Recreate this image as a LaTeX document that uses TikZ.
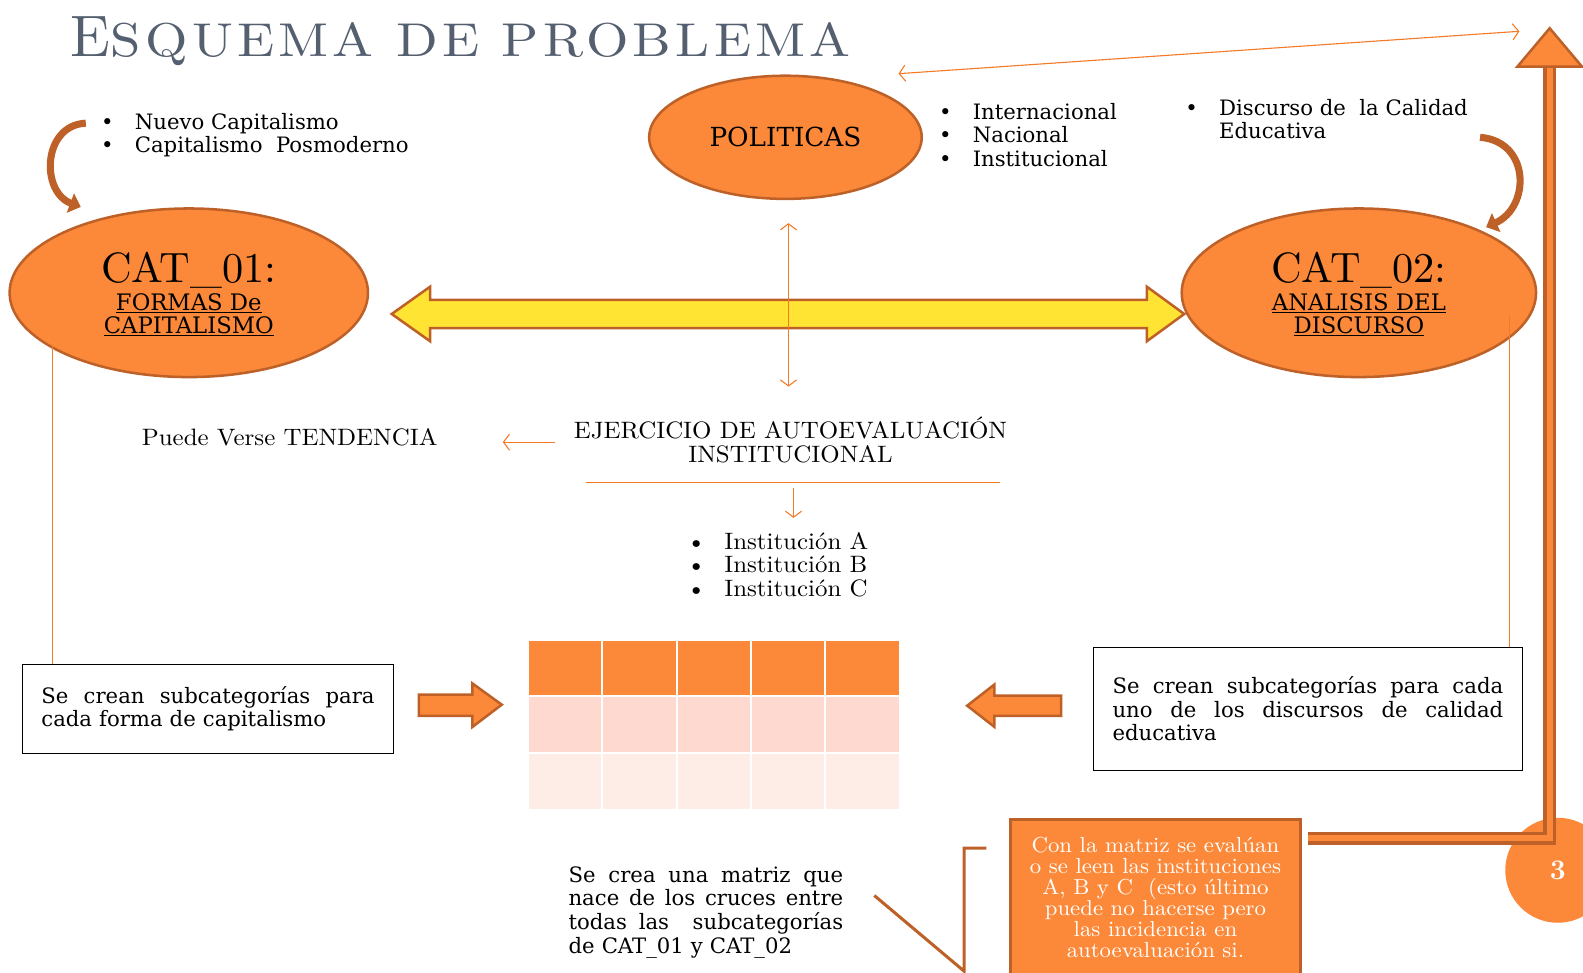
\documentclass[tikz,border=0pt]{standalone}
\usepackage{fontspec}
\newfontfamily\wfont{DejaVu Serif}
\newfontfamily\lfont{lmroman10-regular.otf}[FakeStretch=1.05]
\newfontfamily\tfont{lmroman10-regular.otf}[FakeStretch=1.15,LetterSpace=9]
\newfontfamily\efont{lmroman10-regular.otf}
\definecolor{myorange}{RGB}{251,137,57}
\definecolor{mybrown}{RGB}{190,97,40}
\definecolor{myyellow}{RGB}{255,228,52}
\definecolor{lineorange}{RGB}{245,122,40}
\definecolor{mypink}{RGB}{253,217,207}
\definecolor{mypale}{RGB}{254,237,231}
\definecolor{titlegray}{RGB}{84,95,112}
\usetikzlibrary{arrows.meta,shapes.geometric}
\newcommand{\jline}[2]{\leavevmode\hbox to #1{#2}}

\begin{document}
\begin{tikzpicture}[x=1pt,y=-1pt,
    every node/.style={inner sep=0pt},
    catnode/.style={ellipse,fill=myorange,draw=mybrown,line width=2.5pt},
    wtext/.style={font=\wfont\fontsize{21}{23.5}\selectfont},
    ltext/.style={font=\lfont\fontsize{23.5}{23.5}\selectfont},
    listnode/.style={anchor=base west},
    textbox/.style={draw,line width=1pt,inner xsep=19pt,wtext},
    thinline/.style={draw=lineorange,line width=1.1pt},
    thinarrow/.style={thinline,-{Straight Barb[length=6pt,width=16pt]}},
    thinboth/.style={thinline,{Straight Barb[length=6pt,width=16pt]}-{Straight Barb[length=6pt,width=16pt]}},
    blockarrow/.style={fill=myorange,draw=mybrown,line width=2.5pt,line join=miter},
    curvearrow/.style={draw=mybrown,line width=7pt,-{Triangle[length=11pt,width=20pt]}},
    brownline/.style={draw=mybrown,line width=3pt}
    ]
    \clip (0,0) rectangle (1568,963);

    \node (title) [anchor=base west,text=titlegray] at (70,56) {{\efont\fontsize{58}{60}\selectfont E}{\tfont\fontsize{47}{48}\selectfont SQUEMA DE PROBLEMA}};

    % the three ellipses
    \node (cat1) [catnode,minimum width=355,minimum height=167] at (187,290) {};
    \node (cat1t) [font=\efont\fontsize{42}{44}\selectfont] at (187,268) {CAT\_01:};
    \node (cat1s) [font=\wfont\fontsize{22.5}{22.5}\selectfont,align=center] at (187,312) {\underline{FORMAS De}\\\underline{CAPITALISMO}};
    \node (pol) [catnode,minimum width=270,minimum height=122,font=\wfont\fontsize{26}{28}\selectfont] at (778,136) {POLITICAS};
    \node (cat2) [catnode,minimum width=351,minimum height=167] at (1346,290) {};
    \node (cat2t) [font=\efont\fontsize{42}{44}\selectfont] at (1346,268) {CAT\_02:};
    \node (cat2s) [font=\wfont\fontsize{22.5}{22.5}\selectfont,align=center] at (1346,312) {\underline{ANALISIS DEL}\\\underline{DISCURSO}};

    % lists
    \node (capl) [listnode,wtext] at (100,128) {\begin{tabular}[t]{@{}l@{\hspace{21pt}}l@{}}\textbullet & Nuevo Capitalismo\\ \textbullet & Capitalismo~ Posmoderno\end{tabular}};
    \node (poll) [listnode,wtext] at (930,118) {\begin{tabular}[t]{@{}l@{\hspace{21pt}}l@{}}\textbullet & Internacional\\ \textbullet & Nacional\\ \textbullet & Institucional\end{tabular}};
    \node (disl) [listnode,wtext] at (1174,114) {\begin{tabular}[t]{@{}l@{\hspace{21pt}}l@{}}\textbullet & Discurso de~ la Calidad\\ & Educativa\end{tabular}};

    \draw[curvearrow] (85,122) .. controls (42,124) and (40,190) .. (80,205);
    \draw[curvearrow] (1466,136) .. controls (1516,140) and (1516,205) .. (1472,225);

    % yellow double arrow
    \coordinate (yl) at (388,311);
    \coordinate (yr) at (1173,311);
    \draw[blockarrow,fill=myyellow] (yl) -- ++(38,-27) -- ++(0,13) -- ++(710,0) -- ++(0,-13)
        -- (yr) -- ++(-37,27) -- ++(0,-13) -- ++(-710,0) -- ++(0,13) -- cycle;

    % middle column
    \node (ejer) [ltext,align=center] at (783,436) {EJERCICIO DE AUTOEVALUACIÓN\\INSTITUCIONAL};
    \node (tend) [ltext] at (287,433) {Puede Verse TENDENCIA};
    \node (inst) [listnode,ltext] at (680,544) {\begin{tabular}[t]{@{}l@{\hspace{18pt}}l@{}}\textbullet & Institución A\\ \textbullet & Institución B\\ \textbullet & Institución C\end{tabular}};

    \coordinate (vtop) at (781,221);
    \coordinate (vbot) at (781,383);
    \coordinate (ttop) at (890,73);
    \coordinate (tend1) at (1505,31);
    \coordinate (tarr) at (550,438);
    \coordinate (tarrend) at (498,438);
    \coordinate (ul) at (580,478);
    \coordinate (ur) at (991,478);
    \coordinate (dtop) at (786,483);
    \coordinate (dbot) at (786,513);
    \draw[thinboth] (vtop) -- (vbot);
    \draw[thinboth] (ttop) -- (tend1);
    \draw[thinarrow] (tarr) -- (tarrend);
    \draw[thinline] (ul) -- (ur);
    \draw[thinarrow] (dtop) -- (dbot);

    % matrix
    \foreach \c in {0,...,4} {
        \fill[myorange] ({524+73.6*\c},635) rectangle ++(71.6,53);
        \fill[mypink] ({524+73.6*\c},690) rectangle ++(71.6,55);
        \fill[mypale] ({524+73.6*\c},747) rectangle ++(71.6,54);
    }

    % side boxes
    \node (box1) [textbox,text width=330,minimum height=88] at (206,702) {\jline{330pt}{Se\hfil crean\hfil subcategorías\hfil para}\\cada forma de capitalismo};
    \node (box2) [textbox,text width=387,minimum height=122] at (1295.5,702) {\jline{387pt}{Se\hfil crean\hfil subcategorías\hfil para\hfil cada}\\\jline{387pt}{uno\hfil de\hfil los\hfil discursos\hfil de\hfil calidad}\\educativa};
    \draw[thinline] (52,342) -- (52,0 |- box1.north);
    \draw[thinline] (1495,312) -- (1495,0 |- box2.north);

    \coordinate (ra) at (497,698);
    \draw[blockarrow] (ra) -- ++(-29,-21) -- ++(0,11) -- ++(-53,0) -- ++(0,21) -- ++(53,0) -- ++(0,11) -- cycle;
    \coordinate (la) at (958,699);
    \draw[blockarrow] (la) -- ++(27,-21) -- ++(0,11) -- ++(66,0) -- ++(0,20) -- ++(-66,0) -- ++(0,11) -- cycle;

    % bottom
    \node (mtext) [wtext,text width=272,anchor=north west] at (563,858) {\jline{272pt}{Se\hfil crea\hfil una\hfil matriz\hfil que}\\\jline{272pt}{nace\hfil de\hfil los\hfil cruces\hfil entre}\\\jline{272pt}{todas\hfil las\hfil\hfil subcategorías}\\de CAT\_01 y CAT\_02};
    \draw[brownline] (866,887) -- (955,962) -- (955,840) -- (977,840);

    \node (orbox) [fill=myorange,draw=mybrown,line width=3pt,minimum width=287,minimum height=153,text=white,align=center,font=\lfont\fontsize{21.5}{20.8}\selectfont] at (1144.5,888.5) {Con la matriz se evalúan\\o se leen las instituciones\\A, B y C~ (esto último\\puede no hacerse pero\\las incidencia en\\autoevaluación si.};

    \node (three) [circle,fill=myorange,minimum size=104,text=white,font=\bfseries\fontsize{28}{30}\selectfont] at (1543,862) {3};

    % big arrow up
    \coordinate (uptip) at (1535,28);
    \coordinate (upbase) at (1535,66);
    \draw[draw=mybrown,line width=13pt,line join=miter] ([xshift=6pt,yshift=58pt]orbox.east) -| (upbase);
    \draw[draw=myorange,line width=6pt,line join=miter] ([xshift=6pt,yshift=58pt]orbox.east) -| (upbase);
    \draw[blockarrow] (uptip) -- ++(32,38) -- ++(-64,0) -- cycle;
\end{tikzpicture}
\end{document}
